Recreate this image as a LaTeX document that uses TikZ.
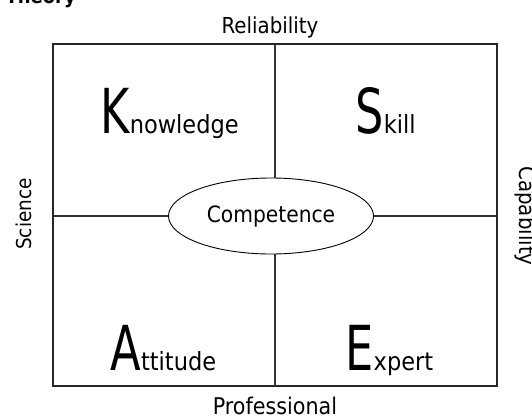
\documentclass[tikz,border=0pt]{standalone}
\usepackage{fontspec}
\setmainfont{DejaVu Sans Condensed}
\usepackage{tikz}
\usetikzlibrary{shapes.geometric}

% big narrow initial followed by the rest of the word
\newcommand{\initword}[2]{{\fontsize{62}{62}\selectfont\scalebox{0.8}[1]{#1}}{\fontsize{25}{25}\selectfont #2}}

\begin{document}
\begin{tikzpicture}[x=1pt,y=-1pt,
    axislabel/.style={font=\fontsize{22}{22}\selectfont},
    grid/.style={line width=1.1pt, black!80}]
                \useasboundingbox (0,0) rectangle (532,415);

                % Title, cut off at the top
                \node[anchor=base west, font=\bfseries\fontsize{20}{20}\selectfont] (title) at (2,4) {Theory};

                % Draw the frame and its corners
                \coordinate (nw) at (53,44);
                \coordinate (se) at (497,386);
                \coordinate (top) at (275,44);
                \coordinate (bot) at (275,386);
                \coordinate (lft) at (53,216);
                \coordinate (rgt) at (497,216);
                \draw[line width=1.7pt, black!85] (nw) rectangle (se);

                % Draw the cross through the middle
                \draw[grid] (top) -- (bot);
                \draw[grid] (lft) -- (rgt);

                % Draw the ellipse in the centre
                \node[ellipse, draw, fill=white, line width=0.9pt, minimum width=205pt, minimum height=76pt,
                      font=\fontsize{22.5}{22.5}\selectfont] (comp) at (271,216) {Competence};

                % Labels on the four sides
                \node[axislabel, anchor=base] (rel) at (270,33) {Reliability};
                \node[axislabel, font=\fontsize{23}{23}\selectfont, anchor=base] (prof) at (275,414) {Professional};
                \node[axislabel, font=\fontsize{20.5}{20.5}\selectfont, rotate=90, anchor=base] (sci) at (31,214) {Science};
                \node[axislabel, rotate=-90, anchor=base] (cap) at (519,216) {Capability};

                % The four quadrants
                \node[anchor=base west] (know) at (97,133) {\initword{K}{nowledge}};
                \node[anchor=base west] (skill) at (352,133) {\initword{S}{kill}};
                \node[anchor=base west] (att) at (107,370) {\initword{A}{ttitude}};
                \node[anchor=base west] (exp) at (342,370) {\initword{E}{xpert}};
            \end{tikzpicture}
\end{document}
